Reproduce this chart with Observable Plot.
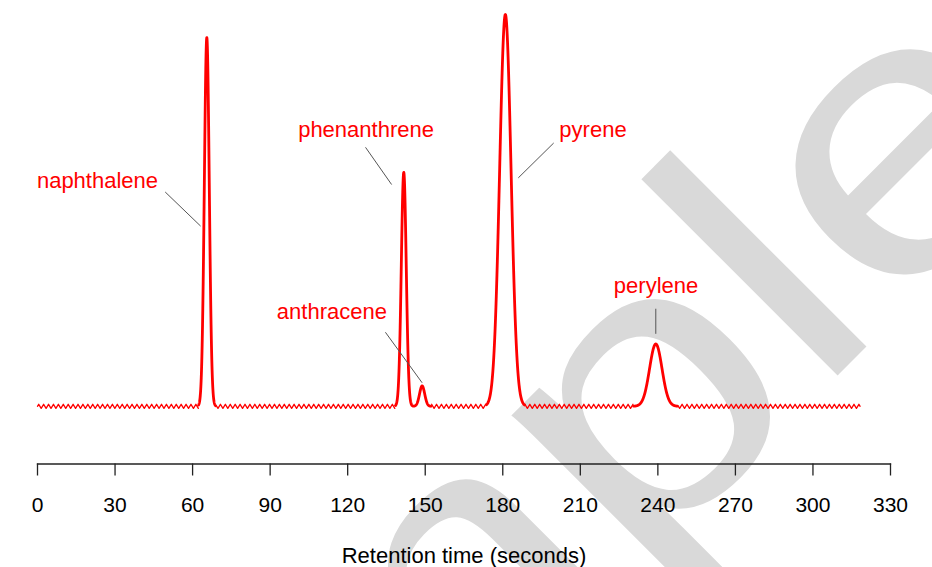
<!DOCTYPE html>
<html>
<head>
<meta charset="utf-8">
<script src="https://cdn.jsdelivr.net/npm/d3@7"></script>
<script src="https://cdn.jsdelivr.net/npm/@observablehq/plot@0.6"></script>
<style>
  html, body { margin: 0; padding: 0; background: #ffffff; }
  #chart { width: 932px; height: 567px; overflow: hidden; }
</style>
</head>
<body>
<div id="chart"></div>
<script>
// ---- Data ----
const compounds = ["naphthalene", "phenanthrene", "anthracene", "pyrene", "perylene"];
const retentionTimes = [65.5, 141.7, 148.8, 181.0, 239.2];   // seconds
const peakHeights = [94.1, 59.7, 5.2, 100, 15.9];            // relative signal
const peakSigmas = [0.95, 0.95, 1.0, 2.2, 2.4];              // seconds

// time windows where the peaks are drawn (no baseline noise there)
const peakWindowStarts = [62.3, 138.5, 173.7, 230.6];
const peakWindowEnds = [68.9, 152.2, 188.4, 247.6];

const runStart = 0;
const runEnd = 318.5;
const rippleStep = 0.475;
const ripplePattern = [0, 0.52, 0, -0.52];

// labels and leader lines (seconds, signal)
const labelTimes = [23.2, 127.1, 113.9, 214.9, 239.3];
const labelSignals = [57.6, 70.5, 24.1, 70.5, 30.7];
const leaderStartTimes = [49.4, 126.9, 134.6, 199.7, 239.2];
const leaderStartSignals = [54.7, 66.1, 18.9, 67.2, 24.9];
const leaderEndTimes = [63.1, 137.0, 148.8, 186.0, 239.2];
const leaderEndSignals = [46.0, 56.6, 6.0, 58.3, 18.5];

const xTicks = [0, 30, 60, 90, 120, 150, 180, 210, 240, 270, 300, 330];
const xLabel = "Retention time (seconds)";
const watermark = "Sample";

// ---- Build tables ----
function peakSignal(t) {
  let v = 0;
  for (let i = 0; i < retentionTimes.length; i++) {
    const z = (t - retentionTimes[i]) / peakSigmas[i];
    v += peakHeights[i] * Math.exp(-0.5 * z * z);
  }
  return v;
}

const peakData = [];
peakWindowStarts.forEach((s, w) => {
  const e = peakWindowEnds[w];
  const n = Math.round((e - s) / 0.05);
  for (let j = 0; j <= n; j++) {
    const t = s + (e - s) * j / n;
    peakData.push({seg: w, t, v: peakSignal(t)});
  }
});

const gapStarts = [runStart, ...peakWindowEnds];
const gapEnds = [...peakWindowStarts, runEnd];
const baseData = [];
gapStarts.forEach((s, g) => {
  const e = gapEnds[g];
  for (let k = Math.ceil(s / rippleStep); k * rippleStep <= e; k++) {
    baseData.push({seg: g, t: k * rippleStep, v: ripplePattern[k % 4]});
  }
});

const labels = compounds.map((name, i) => ({name, t: labelTimes[i], v: labelSignals[i]}));
const leaders = compounds.map((name, i) => ({
  x1: leaderStartTimes[i], y1: leaderStartSignals[i],
  x2: leaderEndTimes[i], y2: leaderEndSignals[i]
}));

const font = "'Liberation Sans', Arial, Helvetica, sans-serif";

const chart = Plot.plot({
  width: 932,
  height: 567,
  marginLeft: 37,
  marginRight: 42,
  marginTop: 0,
  marginBottom: 103.5,
  style: {fontFamily: font, background: "#ffffff", color: "#000000"},
  x: {domain: [0, 330]},
  y: {domain: [0, 100], range: [405.8, 14], axis: null},
  marks: [
    Plot.text([watermark], {
      frameAnchor: "top-left", dx: -78, dy: 1253,
      text: d => d, rotate: -45, fontSize: 383, fill: "#d9d9d9",
      textAnchor: "start", lineAnchor: "bottom"
    }),
    Plot.line(baseData, {x: "t", y: "v", z: "seg", stroke: "#ff0000", strokeWidth: 1.3}),
    Plot.line(peakData, {x: "t", y: "v", z: "seg", stroke: "#ff0000", strokeWidth: 2.8}),
    Plot.link(leaders, {x1: "x1", y1: "y1", x2: "x2", y2: "y2", stroke: "#555555", strokeWidth: 1}),
    Plot.text(labels, {x: "t", y: "v", text: "name", fill: "#ff0000", fontSize: 22}),
    Plot.frame({anchor: "bottom", stroke: "#222222", strokeWidth: 1.3}),
    Plot.axisX({ticks: xTicks, tickSize: 12, tickPadding: 21, fontSize: 21, label: null,
      stroke: "#222222", strokeWidth: 1.3, fill: "#000000"}),
    Plot.text([xLabel], {frameAnchor: "bottom", dy: 98.5, text: d => d,
      lineAnchor: "bottom", fontSize: 22, fill: "#000000"})
  ]
});

// stretch the watermark along its reading direction, as in the reference
chart.querySelectorAll("text").forEach(el => {
  if (el.textContent === watermark) {
    el.setAttribute("transform", el.getAttribute("transform") + " scale(1.21,1)");
  }
});

document.getElementById("chart").appendChild(chart);
</script>
</body>
</html>
